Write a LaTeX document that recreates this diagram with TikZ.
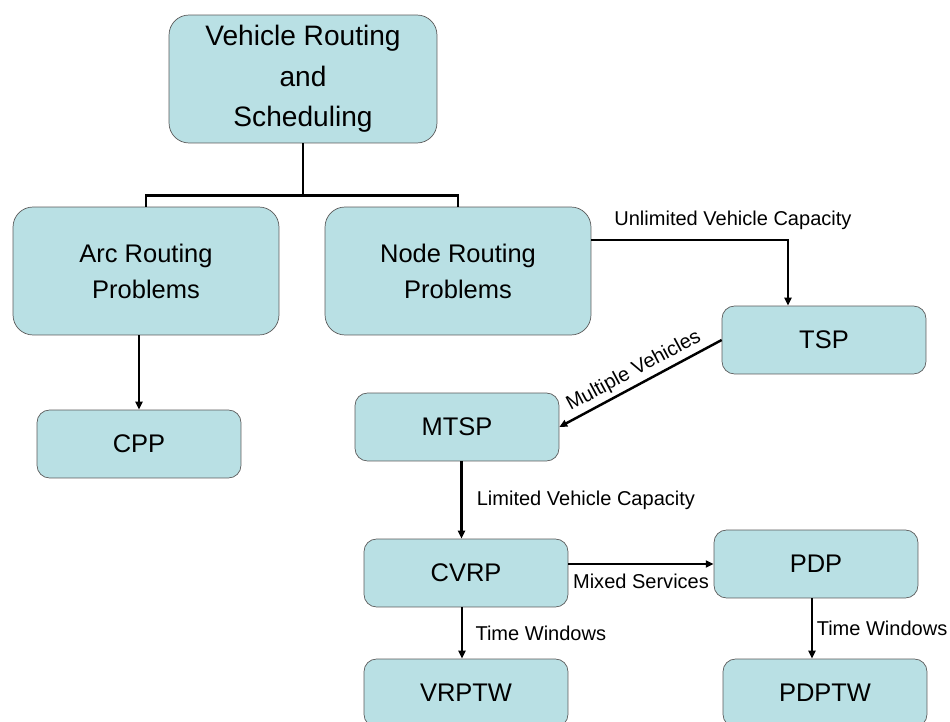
\documentclass[tikz,border=0pt]{standalone}
\usepackage{fontspec}
\setmainfont{Liberation Sans}
\usetikzlibrary{arrows.meta}
\definecolor{boxC}{RGB}{185,224,228}
\definecolor{edgeC}{RGB}{90,90,90}
\begin{document}
\begin{tikzpicture}[x=0.02cm,y=-0.02cm,bigS/.style={shape=rectangle,rounded corners=0.4cm,draw=edgeC,fill=boxC,minimum width=5.32cm,minimum height=2.56cm,align=center,font=\fontsize{14.5}{20.5}\selectfont},smallS/.style={shape=rectangle,rounded corners=0.25cm,draw=edgeC,fill=boxC,minimum width=4.08cm,minimum height=1.36cm,font=\fontsize{14.5}{18}\selectfont},linkS/.style={line width=1.4pt},arrowS/.style={line width=1.4pt,-{Triangle[length=4.5pt,width=4pt]}},labelS/.style={font=\fontsize{11.4}{13}\selectfont,inner sep=2pt}]
\useasboundingbox (0,0) rectangle (950,722);

\node[bigS,minimum width=5.36cm,font=\fontsize{16}{23}\selectfont] (VRS) at (303,79) {Vehicle Routing\\and\\Scheduling};
\node[bigS] (Arc) at (146,271) {Arc Routing\\Problems};
\node[bigS] (Nod) at (458,271) {Node Routing\\Problems};

\node[smallS] (TSP) at (824,340) {TSP};
\node[smallS] (CPP) at (139,444) {CPP};
\node[smallS] (MTSP) at (457,427) {MTSP};
\node[smallS] (CVRP) at (466,573) {CVRP};
\node[smallS] (PDP) at (816,564) {PDP};
\node[smallS] (VRPTW) at (466,693) {VRPTW};
\node[smallS] (PDPTW) at (825,693) {PDPTW};

\draw[linkS] (VRS.south) -- ++(0,52) -| (Arc.north);
\draw[linkS] (VRS.south) -- ++(0,52) -| (Nod.north);
\draw[arrowS] (Arc.south -| CPP.north) -- (CPP.north);
\draw[arrowS] ([yshift=0.62cm]Nod.east) -| ([xshift=-0.72cm]TSP.north) node[labelS,pos=0.36,above=3pt] {Unlimited Vehicle Capacity};
\draw[arrowS] (TSP.west) -- (MTSP.east) node[labelS,midway,sloped,above] {Multiple Vehicles};
\draw[arrowS] ([xshift=0.09cm]MTSP.south) -- ([xshift=0.09cm]MTSP.south |- CVRP.north) node[labelS,midway,right=6pt] {Limited Vehicle Capacity};
\draw[arrowS] (CVRP.east |- PDP.west) -- (PDP.west) node[labelS,midway,below=3pt] {Mixed Services};
\draw[arrowS] ([xshift=-0.08cm]CVRP.south) -- ([xshift=-0.08cm]CVRP.south |- VRPTW.north) node[labelS,midway,right=5pt] {Time Windows};
\draw[arrowS] ([xshift=-0.08cm]PDP.south) -- ([xshift=-0.08cm]PDP.south |- PDPTW.north) node[labelS,midway,right=0pt] {Time Windows};
\end{tikzpicture}
\end{document}
